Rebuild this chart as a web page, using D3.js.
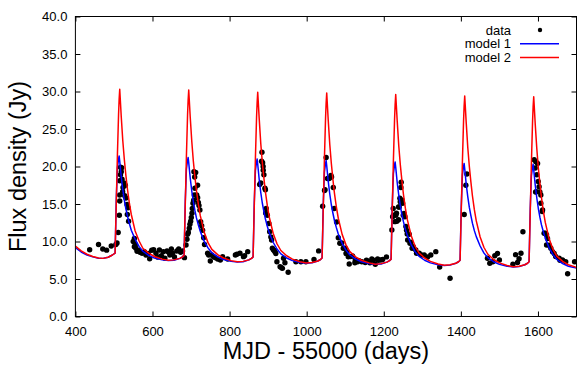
<!DOCTYPE html>
<html>
<head>
<meta charset="utf-8">
<script src="https://cdn.jsdelivr.net/npm/d3@7"></script>
<style>
  html, body { margin: 0; padding: 0; background: #fff; }
  svg { display: block; font-family: "Liberation Sans", Arial, Helvetica, sans-serif; }
</style>
</head>
<body>
<script>
// observed flux densities (MJD - 55000, Jy)
const obsDay = [
  437, 460, 471, 481, 493, 505, 508,
  511, 514, 515, 515, 517, 520, 519, 517, 515, 521, 526, 529.5, 523.5, 522.6, 528, 531, 534, 536.5, 534.7, 538,
  550, 553, 555.5, 553, 557, 560, 564, 567.6, 573, 579, 583, 589, 592.7, 598, 603, 609, 613, 618, 623, 628, 632, 637.6, 642, 645, 649, 652, 657, 663, 668, 673, 678, 683,
  687, 689.5, 691, 693, 695.5, 697, 699, 700.7, 702.4, 703.3, 705, 706.8, 708.5, 710, 709.4, 712, 707.5, 714.6, 717, 717.2, 719, 720.6, 723, 725, 727.5, 730, 732.7, 735,
  743, 745.7, 750, 753.5, 758, 763, 769, 776, 782, 795, 815, 819, 827, 836, 839, 847,
  878, 881, 884, 885.7, 887, 883, 887.3, 889, 891.7, 893, 893.5, 895, 898, 902, 904, 907, 909, 911, 914, 916, 918, 920, 922.8, 931, 935, 937, 940, 943.6, 952,
  972, 985, 998, 1019, 1031,
  1041.4, 1046.3, 1047.6, 1050.5, 1054, 1058.5, 1063, 1064.5, 1069, 1071.5, 1077.6, 1082, 1086, 1091, 1095, 1100, 1102, 1104.4, 1108, 1110.4, 1114, 1119, 1125, 1126, 1132, 1136, 1143, 1152, 1155, 1158, 1164, 1169, 1173, 1178, 1184, 1186, 1192.5, 1197, 1207,
  1221, 1223, 1224.5, 1225.4, 1228.8, 1231.4, 1233, 1234, 1238.4, 1238.4, 1240, 1241.8, 1242.7, 1244.4, 1245.2, 1247.7, 1248.8, 1250.5, 1252.5, 1254.8, 1257.4, 1259.1, 1260.8, 1262, 1266, 1268, 1270.3, 1273.5, 1276.4, 1283, 1285, 1292, 1298, 1305, 1313.6, 1322, 1335, 1345, 1372,
  1408.7, 1413, 1415.6,
  1469, 1475, 1483, 1488, 1495, 1500, 1535, 1542, 1547, 1551, 1556, 1561,
  1590.2, 1594.5, 1599, 1592.8, 1597, 1600.6, 1603, 1596.3, 1593.8, 1605, 1607.5, 1607.5, 1611, 1612, 1616, 1618.7, 1622.2, 1624.8, 1622.3, 1629, 1633.5, 1637.8, 1642, 1646, 1655, 1657, 1663.7, 1672, 1677, 1695
];
const obsFlux = [
  8.9, 9.6, 9.0, 8.85, 9.4, 9.6, 9.8,
  11.2, 13.5, 15.4, 16.2, 19.9, 19.85, 19.3, 18.9, 18.1, 18.3, 17.8, 17.5, 17.2, 16.65, 16.1, 15.8, 14.95, 14.5, 13.6, 12.7,
  10.0, 10.4, 9.6, 9.3, 9.1, 8.7, 8.8, 8.56, 8.43, 8.65, 8.2, 8.4, 7.7, 8.83, 8.9, 8.43, 7.94, 8.87, 8.1, 8.65, 7.76, 8.74, 8.56, 8.2, 9.0, 8.43, 7.94, 8.74, 9.0, 8.56, 8.74, 7.85,
  9.53, 10.3, 10.96, 11.2, 11.76, 12.3, 12.7, 13.2, 13.76, 14.4, 15.1, 15.5, 16.2, 17.1, 18.6, 19.2, 19.3, 16.2, 17.5, 15.85, 15.2, 14.8, 14.2, 12.65, 12.1, 11.5, 10.5, 9.6,
  8.43, 8.2, 7.4, 8.2, 8.0, 7.85, 7.67, 7.54, 7.98, 7.67, 8.2, 8.3, 8.43, 7.98, 8.1, 8.65,
  17.6, 17.8, 21.9, 20.5, 20.0, 20.7, 19.5, 18.9, 17.1, 16.9, 13.8, 14.4, 13.5, 12.4, 11.3, 10.6, 10.2, 9.1, 8.87, 8.8, 8.6, 8.4, 7.3, 6.65, 6.5, 6.42, 7.76, 7.17, 5.9,
  7.3, 7.3, 7.3, 7.6, 8.75,
  14.7, 16.8, 16.9, 21.2, 18.4, 18.4, 18.8, 18.6, 17.2, 14.4, 12.6, 10.5, 9.76, 9.8, 9.1, 9.1, 8.4, 8.56, 7.97, 7.0, 8.0, 8.07, 7.17, 7.54, 7.3, 7.45, 7.3, 7.2, 7.5, 7.4, 7.17, 7.67, 7.5, 6.96, 7.67, 7.5, 7.54, 7.6, 7.95,
  11.54, 13.3, 14.4, 13.5, 12.65, 13.5, 13.76, 12.7, 12.9, 14.6, 14.6, 15.76, 15.3, 17.2, 17.9, 15.5, 15.1, 13.5, 13.75, 13.3, 12.0, 11.5, 11.0, 10.2, 10.96, 9.76, 9.9, 9.1, 9.3, 8.87, 8.43, 8.43, 8.2, 8.2, 7.94, 8.2, 8.65, 6.6, 5.1,
  13.6, 17.5, 19.0,
  7.76, 7.1, 7.3, 8.1, 8.4, 7.54, 6.96, 8.25, 7.2, 7.7, 8.43, 11.3,
  20.9, 20.65, 20.4, 19.8, 18.9, 18.0, 17.3, 16.65, 16.6, 16.6, 16.2, 15.1, 14.0, 14.2, 11.1, 11.1, 10.9, 10.4, 9.53, 9.5, 9.1, 8.65, 8.4, 8.0, 7.76, 7.5, 7.54, 7.3, 5.7, 7.3
];

// model light curves, both sampled on the same days
const modelDays = [
  400, 415, 430, 445, 460, 472, 485, 496,
  503, 506, 509, 512, 513.5, 515, 519, 523, 527, 531, 535, 540, 545, 555, 565, 575, 590, 605, 625, 641,
  656, 671, 678,
  682, 685, 688, 691, 692.5, 694, 698, 702, 706, 710, 714, 719, 724, 734, 744, 754, 769, 784, 804, 820,
  835, 850, 857,
  861, 864, 867, 870, 871.5, 873, 877, 881, 885, 889, 893, 898, 903, 913, 923, 933, 948, 963, 983, 999,
  1014, 1029, 1036,
  1040, 1043, 1046, 1049, 1050.5, 1052, 1056, 1060, 1064, 1068, 1072, 1077, 1082, 1092, 1102, 1112, 1127, 1142, 1162, 1178,
  1193, 1208, 1215,
  1219, 1222, 1225, 1228, 1229.5, 1231, 1235, 1239, 1243, 1247, 1251, 1256, 1261, 1271, 1281, 1291, 1306, 1321, 1341, 1357,
  1372, 1387, 1394,
  1398, 1401, 1404, 1407, 1408.5, 1410, 1414, 1418, 1422, 1426, 1430, 1435, 1440, 1450, 1460, 1470, 1485, 1500, 1520, 1536,
  1551, 1566, 1573,
  1577, 1580, 1583, 1586, 1587.5, 1589, 1593, 1597, 1601, 1605, 1609, 1614, 1619, 1629, 1639, 1649, 1664, 1679, 1700
];
const model1 = [
  9.2, 8.6, 8.2, 7.95, 7.78, 7.75, 7.9, 8.2,
  8.45, 15.6, 19.85, 21.0, 21.4, 20.7, 18.6, 16.9, 15.5, 14.35, 13.4, 12.4, 11.5, 10.3, 9.35, 8.7, 8.15, 7.8, 7.55, 7.45,
  7.5, 7.75, 7.95,
  8.15, 15.35, 19.65, 20.8, 21.2, 20.5, 18.4, 16.7, 15.3, 14.15, 13.15, 12.2, 11.35, 10.05, 9.15, 8.5, 7.95, 7.6, 7.35, 7.25,
  7.3, 7.55, 7.75,
  7.95, 15.15, 19.45, 20.6, 21.0, 20.3, 18.2, 16.5, 15.1, 14.0, 13.0, 12.0, 11.15, 9.9, 9.0, 8.35, 7.8, 7.45, 7.2, 7.1,
  7.15, 7.4, 7.6,
  7.8, 14.95, 19.25, 20.4, 20.8, 20.1, 18.0, 16.3, 14.9, 13.8, 12.8, 11.85, 11.0, 9.75, 8.85, 8.2, 7.65, 7.3, 7.05, 6.95,
  7.0, 7.25, 7.45,
  7.65, 14.8, 19.05, 20.2, 20.6, 19.9, 17.8, 16.15, 14.75, 13.6, 12.65, 11.65, 10.85, 9.6, 8.65, 8.05, 7.5, 7.15, 6.9, 6.8,
  6.85, 7.1, 7.3,
  7.5, 14.6, 18.85, 20.0, 20.4, 19.7, 17.6, 15.95, 14.55, 13.45, 12.45, 11.45, 10.65, 9.4, 8.45, 7.85, 7.3, 6.95, 6.7, 6.6,
  6.65, 6.9, 7.1,
  7.3, 14.45, 18.75, 19.9, 20.3, 19.6, 17.5, 15.8, 14.4, 13.25, 12.25, 11.3, 10.45, 9.15, 8.25, 7.6, 7.05, 6.7, 6.45
];
const model2 = [
  9.4, 8.75, 8.3, 8.0, 7.8, 7.75, 7.9, 8.2,
  8.45, 15.0, 21.6, 27.0, 29.0, 30.3, 26.6, 23.4, 20.9, 18.8, 17.0, 15.1, 13.6, 11.4, 10.1, 9.1, 8.45, 8.0, 7.65, 7.5,
  7.55, 7.75, 7.95,
  8.15, 14.8, 21.4, 26.9, 28.9, 30.2, 26.5, 23.3, 20.7, 18.65, 16.8, 14.95, 13.45, 11.25, 9.85, 8.95, 8.25, 7.8, 7.45, 7.3,
  7.35, 7.55, 7.75,
  7.95, 14.55, 21.15, 26.6, 28.55, 29.9, 26.25, 23.0, 20.5, 18.45, 16.6, 14.75, 13.25, 11.1, 9.7, 8.8, 8.1, 7.65, 7.3, 7.13,
  7.2, 7.4, 7.6,
  7.8, 14.4, 21.0, 26.5, 28.5, 29.8, 26.1, 22.9, 20.4, 18.3, 16.45, 14.6, 13.1, 10.95, 9.55, 8.65, 7.95, 7.5, 7.15, 6.98,
  7.05, 7.25, 7.45,
  7.65, 14.25, 20.85, 26.3, 28.25, 29.6, 25.95, 22.7, 20.2, 18.15, 16.3, 14.45, 12.95, 10.8, 9.4, 8.5, 7.8, 7.35, 7.0, 6.83,
  6.9, 7.1, 7.3,
  7.5, 14.05, 20.65, 26.1, 28.1, 29.4, 25.75, 22.5, 20.0, 17.95, 16.1, 14.25, 12.75, 10.6, 9.2, 8.3, 7.6, 7.15, 6.8, 6.63,
  6.7, 6.9, 7.1,
  7.3, 13.9, 20.5, 26.0, 28.0, 29.3, 25.6, 22.4, 19.8, 17.75, 15.9, 14.05, 12.55, 10.35, 8.95, 8.05, 7.35, 6.9, 6.55
];

const xTicks = [400, 600, 800, 1000, 1200, 1400, 1600];
const yTicks = [0, 5, 10, 15, 20, 25, 30, 35, 40];
const seriesNames = ["data", "model 1", "model 2"];

const w = 577, h = 365;
const pLeft = 75.4, pRight = 576.5, pTop = 16.5, pBottom = 316.5;

const svg = d3.select("body").append("svg")
  .attr("width", w)
  .attr("height", h);

const x = d3.scaleLinear().domain([400, 1700]).range([pLeft, pRight]);
const y = d3.scaleLinear().domain([0, 40]).range([pBottom, pTop]);

svg.append("defs").append("clipPath").attr("id", "plot")
  .append("rect")
  .attr("x", pLeft).attr("y", pTop)
  .attr("width", pRight - pLeft).attr("height", pBottom - pTop);

// axes, ticks pointing inwards and mirrored on top/right
svg.append("g")
  .attr("transform", `translate(0,${pBottom})`)
  .call(d3.axisBottom(x).tickValues(xTicks).tickFormat(d3.format("d"))
    .tickSizeInner(-5).tickSizeOuter(0).tickPadding(10));
svg.append("g")
  .attr("transform", `translate(${pLeft},0)`)
  .call(d3.axisLeft(y).tickValues(yTicks).tickFormat(d3.format(".1f"))
    .tickSizeInner(-5).tickSizeOuter(0).tickPadding(8));
svg.append("g")
  .attr("transform", `translate(0,${pTop})`)
  .call(d3.axisTop(x).tickValues(xTicks).tickSizeInner(-5).tickSizeOuter(0).tickFormat(""));
svg.append("g")
  .attr("transform", `translate(${pRight},0)`)
  .call(d3.axisRight(y).tickValues(yTicks).tickSizeInner(-5).tickSizeOuter(0).tickFormat(""));

svg.selectAll(".domain").remove();
svg.selectAll(".tick line").attr("stroke", "#000").attr("stroke-width", 1);
svg.selectAll(".tick text")
  .attr("fill", "#000")
  .style("font-size", "13px")
  .style("font-family", "'Liberation Sans', Arial, sans-serif");

// data points
const obs = obsDay.map((d, i) => [d, obsFlux[i]]);
const plot = svg.append("g").attr("clip-path", "url(#plot)");
plot.selectAll("circle.obs")
  .data(obs)
  .enter()
  .append("circle")
  .attr("class", "obs")
  .attr("cx", d => x(d[0]))
  .attr("cy", d => y(d[1]))
  .attr("r", 2.7)
  .attr("fill", "#000");

// model curves
const line = d3.line()
  .x(d => x(d[0]))
  .y(d => y(d[1]));

plot.append("path")
  .datum(modelDays.map((d, i) => [d, model1[i]]))
  .attr("d", line)
  .attr("fill", "none")
  .attr("stroke", "#0000ff")
  .attr("stroke-width", 1.5)
  .attr("stroke-linejoin", "round");

plot.append("path")
  .datum(modelDays.map((d, i) => [d, model2[i]]))
  .attr("d", line)
  .attr("fill", "none")
  .attr("stroke", "#ff0000")
  .attr("stroke-width", 1.5)
  .attr("stroke-linejoin", "round");

// frame
svg.append("rect")
  .attr("x", pLeft).attr("y", pTop)
  .attr("width", pRight - pLeft).attr("height", pBottom - pTop)
  .attr("fill", "none")
  .attr("stroke", "#000")
  .attr("stroke-width", 1);

// legend
const legY = [30, 43.7, 57.4];
const leg = svg.append("g");
leg.selectAll("text")
  .data(seriesNames)
  .enter()
  .append("text")
  .attr("x", 511)
  .attr("y", (d, i) => legY[i] + 4.6)
  .attr("text-anchor", "end")
  .style("font-size", "13px")
  .text(d => d);
leg.append("circle").attr("cx", 540).attr("cy", legY[0]).attr("r", 2.2).attr("fill", "#000");
leg.append("line").attr("x1", 520).attr("x2", 559).attr("y1", legY[1]).attr("y2", legY[1])
  .attr("stroke", "#0000ff").attr("stroke-width", 1.5);
leg.append("line").attr("x1", 520).attr("x2", 559).attr("y1", legY[2]).attr("y2", legY[2])
  .attr("stroke", "#ff0000").attr("stroke-width", 1.5);

// axis titles
svg.append("text")
  .attr("x", (pLeft + pRight) / 2)
  .attr("y", 359)
  .attr("text-anchor", "middle")
  .style("font-size", "23.5px")
  .text("MJD - 55000 (days)");

svg.append("text")
  .attr("transform", `translate(26,${(pTop + pBottom) / 2}) rotate(-90)`)
  .attr("text-anchor", "middle")
  .style("font-size", "23.5px")
  .text("Flux density (Jy)");
</script>
</body>
</html>
